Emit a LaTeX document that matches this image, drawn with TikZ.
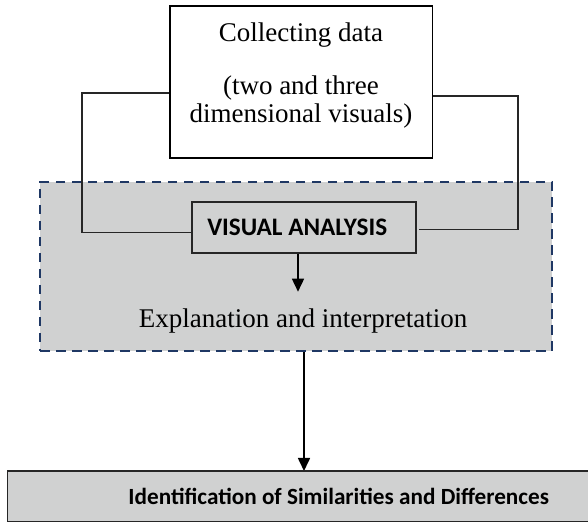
\documentclass[tikz,border=0pt]{standalone}
\usepackage{fontspec}
\setmainfont{Liberation Serif}
\newfontfamily\calib{Carlito}
\usetikzlibrary{arrows.meta}
\definecolor{panelgray}{RGB}{208,209,209}
\definecolor{navy}{RGB}{31,56,100}
\tikzset{
  plainbox/.style={draw=black, line width=0.9pt, fill=white, inner sep=0pt},
  greybox/.style={draw=black!85, line width=0.9pt, fill=panelgray, inner sep=0pt},
  boldsans/.style={font=\calib\bfseries\fontsize{#1}{14}\selectfont},
  panel/.style={draw=navy, line width=1.3pt, dash pattern=on 4.75pt off 3.25pt,
    fill=panelgray, inner sep=0pt},
  serif/.style={font=\fontsize{13.5}{14}\selectfont, inner sep=0pt, align=center},
  link/.style={draw=black!85, line width=0.8pt},
  arr/.style={draw=black, line width=0.8pt, -{Triangle[width=6pt,length=6.5pt]}}
}
\begin{document}
\begin{tikzpicture}[x=0.5pt,y=-0.5pt]
\useasboundingbox (0,0) rectangle (588,522);
\fill[white] (0,0) rectangle (588,522);

% dashed analysis panel
\node[panel, minimum width=256pt, minimum height=84.5pt] (panel) at (296,266.5) {};

% data collection box
\node[plainbox, minimum width=131.25pt, minimum height=76pt] (cd) at (301.25,82) {};
\node[serif] (cdtext) at (301,75.5)
  {Collecting data\\[12.5pt](two and three\\dimensional visuals)};

% visual analysis box
\node[greybox, boldsans=12.6, minimum width=112pt, minimum height=25.5pt]
  (va) at (303.7,227.8) {VISUAL ANALYSIS\kern6.5pt};

% explanation text
\node[serif] (ex) at (303,321) {Explanation and interpretation};

% side links from the data box to the analysis box
\draw[link] (cd.west |- 0,93) -| (81.7,232.5) -- (va.west |- 0,232.5);
\draw[link] (cd.east |- 0,96) -| (517.7,229.5) -- ([xshift=1.2pt]va.east |- 0,229.5);

% arrows
\draw[arr] (va.south -| 298,0) -- (298,291.7);
\draw[arr] (panel.south -| 304,0) -- (304,471);

% result box
\node[greybox, boldsans=11.6, minimum width=331.25pt, minimum height=25.25pt]
  (id) at (338.75,496.25) {Identification of Similarities and Differences};
\end{tikzpicture}
\end{document}
